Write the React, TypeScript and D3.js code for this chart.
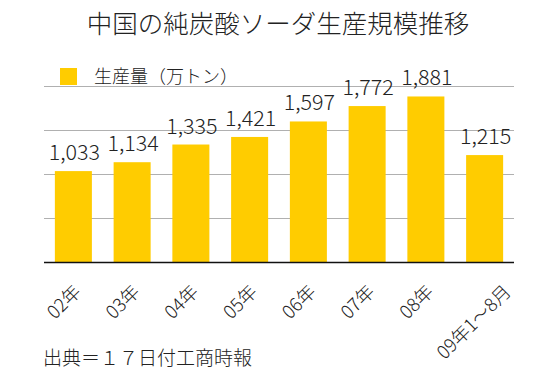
import React, { useEffect, useRef } from "react";
import * as d3 from "d3";

// 中国の純炭酸ソーダ生産規模（万トン）
const categories = ["02年", "03年", "04年", "05年", "06年", "07年", "08年", "09年1〜8月"];
const production = [1033, 1134, 1335, 1421, 1597, 1772, 1881, 1215];
const yTicks = [0, 500, 1000, 1500, 2000];

const title = "中国の純炭酸ソーダ生産規模推移";
const legendLabel = "生産量（万トン）";
const source = "出典＝１７日付工商時報";

const FONT = "'Noto Sans CJK JP', 'Noto Sans', sans-serif";

const App = () => {
    const svgRef = useRef<SVGSVGElement>(null);

    useEffect(() => {
        const dims = { width: 544, height: 385, left: 44, right: 514, top: 86, bottom: 262 };

        const svg = d3.select(svgRef.current)
            .attr("width", dims.width)
            .attr("height", dims.height)
            .style("font-family", FONT)
            .style("font-weight", 300);
        svg.selectAll("*").remove();

        const xScale = d3.scaleBand<string>()
            .domain(categories)
            .range([dims.left, dims.right])
            .paddingInner(0.37)
            .paddingOuter(0.185);

        const yScale = d3.scaleLinear()
            .domain([0, 2000])
            .range([dims.bottom, dims.top]);

        // title
        svg.append("text")
            .attr("x", 278)
            .attr("y", 33)
            .attr("text-anchor", "middle")
            .attr("font-size", 25.5)
            .attr("fill", "#222")
            .text(title);

        // legend
        svg.append("rect")
            .attr("x", 60).attr("y", 68)
            .attr("width", 17).attr("height", 17)
            .attr("fill", "#ffcc00");
        svg.append("text")
            .attr("x", 94).attr("y", 83)
            .attr("font-size", 18)
            .attr("fill", "#222")
            .text(legendLabel);

        // gridlines
        svg.append("g")
            .selectAll("line")
            .data(yTicks.filter(t => t > 0))
            .join("line")
            .attr("x1", dims.left).attr("x2", dims.right)
            .attr("y1", d => yScale(d) + 0.5).attr("y2", d => yScale(d) + 0.5)
            .attr("stroke", "#b0b0b0")
            .attr("stroke-width", 1);

        // bars
        svg.append("g")
            .selectAll("rect")
            .data(production)
            .join("rect")
            .attr("x", (d, i) => xScale(categories[i])!)
            .attr("y", d => yScale(d))
            .attr("width", xScale.bandwidth())
            .attr("height", d => yScale(0) - yScale(d))
            .attr("fill", "#ffcc00");

        // value labels
        svg.append("g")
            .selectAll("text")
            .data(production)
            .join("text")
            .attr("x", (d, i) => xScale(categories[i])! + xScale.bandwidth() / 2 + 1)
            .attr("y", d => yScale(d) - 11)
            .attr("text-anchor", "middle")
            .attr("font-size", 21.5)
            .attr("fill", "#222")
            .text(d => d3.format(",")(d));

        // baseline
        svg.append("line")
            .attr("x1", dims.left).attr("x2", dims.right)
            .attr("y1", yScale(0) + 0.5).attr("y2", yScale(0) + 0.5)
            .attr("stroke", "#111")
            .attr("stroke-width", 1.5);

        // rotated category labels
        const xLabels = svg.append("g")
            .selectAll("text")
            .data(categories)
            .join("text")
            .attr("text-anchor", "end")
            .attr("font-size", 18.5)
            .attr("fill", "#222")
            .text(d => d);

        xLabels.each(function (d) {
            const node = this as SVGTextElement;
            const len = node.getComputedTextLength();
            const cx = xScale(d)! + xScale.bandwidth() / 2;
            const ax = cx - 4 + 0.33 * len;
            const ay = 293;
            d3.select(node).attr("transform", `translate(${ax},${ay}) rotate(-45)`);
        });

        // source
        svg.append("text")
            .attr("x", 43).attr("y", 365)
            .attr("font-size", 19)
            .attr("fill", "#222")
            .text(source);
    }, []);

    return (
        <svg ref={svgRef} style={{ position: "absolute", left: 0, top: 0 }}></svg>
    );
};

export default App;
